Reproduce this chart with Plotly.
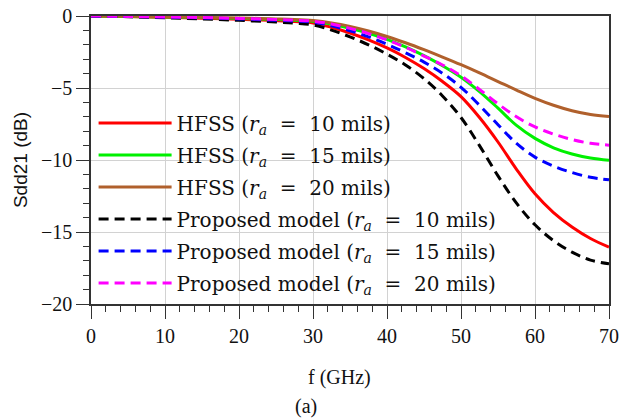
import plotly.graph_objects as go

freq = [0, 5, 10, 15, 20, 25, 27.5, 30, 32.5, 35, 37.5, 40, 42.5, 45, 47.5, 50,
        52.5, 55, 57.5, 60, 62.5, 65, 67.5, 70]

hfss_10 = [0, -0.04, -0.09, -0.15, -0.23, -0.32, -0.38, -0.48, -0.78, -1.18, -1.66, -2.22, -2.88, -3.65, -4.55, -5.6,
           -7.05, -8.75, -10.65, -12.35, -13.65, -14.65, -15.45, -16.05]
hfss_15 = [0, -0.03, -0.07, -0.11, -0.17, -0.24, -0.29, -0.36, -0.56, -0.86, -1.2, -1.62, -2.14, -2.75, -3.45, -4.25,
           -5.25, -6.4, -7.6, -8.5, -9.15, -9.58, -9.86, -10.02]
hfss_20 = [0, -0.02, -0.05, -0.09, -0.14, -0.2, -0.24, -0.32, -0.48, -0.72, -1.04, -1.42, -1.86, -2.34, -2.85, -3.38,
           -3.95, -4.55, -5.15, -5.72, -6.2, -6.58, -6.84, -6.98]
model_10 = [0, -0.05, -0.12, -0.2, -0.3, -0.42, -0.5, -0.62, -0.98, -1.45, -2.0, -2.65, -3.4, -4.35, -5.55, -7.05,
            -9.0, -11.1, -13.0, -14.5, -15.6, -16.4, -16.95, -17.2]
model_15 = [0, -0.04, -0.08, -0.13, -0.2, -0.3, -0.35, -0.43, -0.68, -1.02, -1.45, -1.96, -2.55, -3.2, -3.98, -4.95,
            -6.2, -7.55, -8.85, -9.8, -10.42, -10.87, -11.2, -11.38]
model_20 = [0, -0.03, -0.07, -0.11, -0.17, -0.24, -0.29, -0.36, -0.56, -0.86, -1.22, -1.66, -2.18, -2.78, -3.4, -4.15,
            -5.1, -6.1, -7.0, -7.7, -8.2, -8.58, -8.84, -8.97]

ra = "(<i>r</i><sub><i>a</i></sub>\u00a0 = \u00a0{} mils)"
series = [
    ("HFSS " + ra.format(10), hfss_10, "#FF0000", "solid"),
    ("HFSS " + ra.format(15), hfss_15, "#00F000", "solid"),
    ("HFSS " + ra.format(20), hfss_20, "#B0602C", "solid"),
    ("Proposed model " + ra.format(10), model_10, "#000000", "10px,6px"),
    ("Proposed model " + ra.format(15), model_15, "#0000FF", "10px,6px"),
    ("Proposed model " + ra.format(20), model_20, "#FF00FF", "10px,6px"),
]

fig = go.Figure()
for i, (name, ys, col, dash) in enumerate(series):
    fig.add_trace(go.Scatter(
        x=freq, y=ys, mode="lines", name=name,
        line=dict(color=col, width=3, dash=dash, shape="spline", smoothing=1.0),
        legendgroup=str(i),
    ))

serif = "Liberation Serif"
fig.update_layout(
    width=621, height=420,
    margin=dict(l=91, r=12, t=16, b=116, autoexpand=False),
    paper_bgcolor="white", plot_bgcolor="white",
    showlegend=True,
    legend=dict(
        x=0.005, y=0.696, xanchor="left", yanchor="top",
        font=dict(family="DejaVu Serif", size=20, color="#111"),
        bgcolor="rgba(0,0,0,0)", itemwidth=73, tracegroupgap=3,
    ),
    font=dict(family=serif, size=20, color="#111"),
)
fig.update_xaxes(
    range=[0, 70], dtick=10, tick0=0, automargin=False,
    showgrid=True, gridcolor="#D2D2D2", gridwidth=1,
    showline=True, linecolor="#333", linewidth=1.5, mirror=True,
    ticks="outside", ticklen=13, tickcolor="#333", tickwidth=1.2,
    minor=dict(dtick=2, ticks="outside", ticklen=6, tickcolor="#333", showgrid=False),
    tickfont=dict(family=serif, size=20, color="#111"),
    zeroline=False,
)
fig.update_yaxes(
    range=[-20, 0], dtick=5, tick0=0, automargin=False,
    showgrid=True, gridcolor="#D2D2D2", gridwidth=1,
    showline=True, linecolor="#333", linewidth=1.5, mirror=True,
    ticks="outside", ticklen=13, tickcolor="#333", tickwidth=1.2,
    minor=dict(dtick=1, ticks="outside", ticklen=6, tickcolor="#333", showgrid=False),
    tickfont=dict(family=serif, size=20, color="#111"),
    title=dict(text="Sdd21 (dB)", font=dict(family="Liberation Sans", size=19, color="#111"), standoff=8),
    zeroline=False,
)
fig.add_annotation(text="f (GHz)", xref="paper", yref="paper", x=(339 - 91) / 518, y=-(377 - 304) / 288,
                   showarrow=False, font=dict(family=serif, size=20, color="#111"), xanchor="center", yanchor="middle")
fig.add_annotation(text="(a)", xref="paper", yref="paper", x=(306 - 91) / 518, y=-(406 - 304) / 288,
                   showarrow=False, font=dict(family=serif, size=20, color="#111"), xanchor="center", yanchor="middle")

fig.write_html("out.html")
